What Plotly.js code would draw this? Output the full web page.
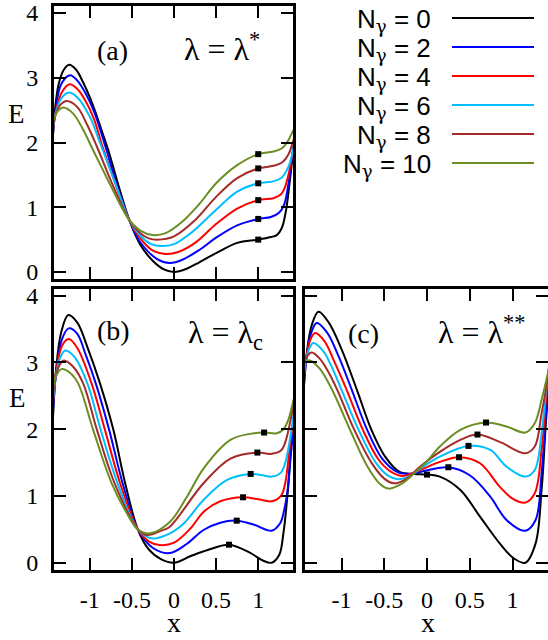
<!DOCTYPE html>
<html>
<head>
<meta charset="utf-8">
<script src="https://cdn.plot.ly/plotly-3.0.1.min.js"></script>
<style>html,body{margin:0;padding:0;background:#fff;}#chart{width:548px;height:640px;}</style>
</head>
<body>
<div id="chart"></div>
<script>
// Series labels (N_gamma) and colours
var nGamma = [0, 2, 4, 6, 8, 10];
var colors = ['#000000', '#0000ff', '#ff0000', '#00bfff', '#a52a2a', '#6b8e23'];

// Panel (a): lambda = lambda*
var aX = [
  [-1.44,-1.41,-1.37,-1.31,-1.245,-1.16,-1.08,-1.0,-0.92,-0.85,-0.78,-0.64,-0.53,-0.4,-0.25,-0.12,0,0.15,0.3,0.5,0.75,1.0,1.15,1.22,1.28,1.33,1.37,1.41,1.45],
  [-1.44,-1.40,-1.34,-1.235,-1.15,-1.05,-0.95,-0.81,-0.68,-0.53,-0.4,-0.2,-0.05,0.1,0.3,0.5,0.75,1.0,1.15,1.25,1.31,1.36,1.40,1.45],
  [-1.44,-1.40,-1.33,-1.24,-1.15,-1.05,-0.95,-0.845,-0.7,-0.53,-0.4,-0.25,-0.1,0.05,0.25,0.5,0.75,1.0,1.18,1.27,1.32,1.38,1.42,1.45],
  [-1.44,-1.40,-1.34,-1.255,-1.15,-1.0,-0.88,-0.7,-0.53,-0.4,-0.27,-0.15,0,0.2,0.5,0.75,1.0,1.18,1.28,1.35,1.40,1.45],
  [-1.44,-1.40,-1.35,-1.275,-1.15,-1.03,-0.92,-0.72,-0.53,-0.4,-0.3,-0.2,0,0.25,0.5,0.75,1.0,1.18,1.29,1.36,1.41,1.45],
  [-1.44,-1.40,-1.315,-1.2,-1.08,-0.96,-0.8,-0.65,-0.53,-0.4,-0.25,-0.1,0.1,0.3,0.5,0.75,1.0,1.18,1.29,1.36,1.41,1.45]
];
var aE = [
  [2.05,2.55,2.9,3.12,3.20,3.12,2.93,2.7,2.42,2.15,1.88,1.25,0.80,0.42,0.17,0.04,0,0.05,0.15,0.29,0.45,0.50,0.54,0.57,0.68,0.95,1.35,1.8,2.2],
  [2.1,2.55,2.9,3.04,2.96,2.76,2.48,1.92,1.35,0.80,0.46,0.2,0.14,0.19,0.34,0.53,0.72,0.82,0.85,0.92,1.05,1.37,1.75,2.2],
  [2.15,2.5,2.78,2.90,2.83,2.64,2.36,1.92,1.38,0.80,0.52,0.33,0.28,0.31,0.45,0.74,0.98,1.11,1.14,1.2,1.32,1.63,1.95,2.2],
  [2.2,2.47,2.68,2.77,2.7,2.4,2.0,1.38,0.80,0.56,0.43,0.40,0.43,0.6,0.96,1.24,1.37,1.40,1.46,1.6,1.8,2.2],
  [2.25,2.45,2.58,2.64,2.55,2.27,1.95,1.32,0.80,0.6,0.52,0.50,0.55,0.8,1.16,1.45,1.60,1.64,1.70,1.82,2.0,2.22],
  [2.3,2.45,2.54,2.45,2.2,1.88,1.46,1.07,0.80,0.64,0.57,0.6,0.78,1.05,1.37,1.65,1.82,1.86,1.92,2.04,2.17,2.27]
];
var aMarkX = [1.0, 1.0, 1.0, 1.0, 1.0, 1.0];
var aMarkE = [0.50, 0.82, 1.11, 1.37, 1.60, 1.82];

// Panel (b): lambda = lambda_c
var bX = [
  [-1.44,-1.40,-1.34,-1.255,-1.15,-1.02,-0.88,-0.72,-0.58,-0.43,-0.3,-0.15,0,0.2,0.4,0.653,0.9,1.06,1.16,1.25,1.3,1.35,1.40,1.45],
  [-1.44,-1.40,-1.33,-1.25,-1.15,-1.05,-0.93,-0.77,-0.61,-0.43,-0.25,-0.05,0.15,0.35,0.55,0.745,0.95,1.16,1.26,1.31,1.35,1.39,1.45],
  [-1.44,-1.40,-1.33,-1.25,-1.15,-0.98,-0.82,-0.64,-0.43,-0.3,-0.17,0,0.2,0.35,0.55,0.82,1.0,1.16,1.27,1.32,1.38,1.45],
  [-1.44,-1.40,-1.35,-1.29,-1.18,-1.03,-0.87,-0.67,-0.43,-0.265,-0.1,0.1,0.35,0.63,0.91,1.05,1.16,1.27,1.33,1.40,1.45],
  [-1.44,-1.40,-1.36,-1.31,-1.2,-1.08,-0.915,-0.705,-0.43,-0.32,-0.15,-0.05,0.35,0.67,0.99,1.15,1.27,1.33,1.40,1.45],
  [-1.44,-1.40,-1.335,-1.24,-1.14,-0.96,-0.74,-0.55,-0.43,-0.285,-0.05,0.15,0.35,0.67,0.9,1.07,1.22,1.30,1.36,1.42,1.45]
];
var bE = [
  [2.1,2.9,3.45,3.71,3.6,3.2,2.69,1.99,1.19,0.50,0.2,0.05,0,0.1,0.19,0.27,0.15,0.03,0,0.12,0.45,1.05,1.9,2.4],
  [2.2,2.85,3.35,3.51,3.43,3.12,2.69,1.99,1.19,0.50,0.22,0.145,0.28,0.49,0.6,0.63,0.57,0.48,0.59,0.8,1.1,1.65,2.4],
  [2.3,2.85,3.25,3.35,3.22,2.69,1.99,1.19,0.50,0.32,0.265,0.3,0.52,0.76,0.92,0.98,0.95,0.92,1.0,1.19,1.79,2.45],
  [2.4,2.8,3.08,3.18,3.08,2.69,1.99,1.19,0.50,0.365,0.41,0.57,0.94,1.24,1.33,1.31,1.29,1.35,1.54,2.04,2.5],
  [2.5,2.8,2.96,3.03,2.94,2.69,1.99,1.19,0.50,0.415,0.48,0.54,1.19,1.56,1.65,1.63,1.68,1.84,2.24,2.52],
  [2.6,2.8,2.90,2.85,2.69,1.99,1.19,0.72,0.50,0.44,0.61,0.98,1.41,1.84,1.93,1.95,1.94,2.0,2.15,2.44,2.56]
];
var bMarkX = [0.653, 0.745, 0.82, 0.91, 0.99, 1.07];
var bMarkE = [0.27, 0.63, 0.98, 1.33, 1.65, 1.95];

// Panel (c): lambda = lambda**
var cX = [
  [-1.45,-1.41,-1.35,-1.27,-1.15,-1.0,-0.82,-0.65,-0.49,-0.32,-0.15,0,0.15,0.39,0.62,0.85,1.01,1.15,1.27,1.34,1.39,1.44],
  [-1.45,-1.41,-1.36,-1.29,-1.17,-1.03,-0.88,-0.70,-0.52,-0.35,-0.2,-0.08,0.25,0.5,0.74,0.93,1.15,1.27,1.34,1.39,1.44],
  [-1.45,-1.42,-1.37,-1.31,-1.2,-1.08,-0.94,-0.75,-0.57,-0.42,-0.28,-0.08,0.15,0.375,0.62,0.85,1.0,1.15,1.26,1.34,1.39,1.44],
  [-1.45,-1.42,-1.38,-1.33,-1.22,-1.12,-1.0,-0.80,-0.6,-0.45,-0.34,-0.2,-0.08,0.15,0.485,0.74,0.93,1.15,1.26,1.34,1.39,1.44],
  [-1.45,-1.42,-1.35,-1.25,-1.15,-1.05,-0.85,-0.65,-0.5,-0.39,-0.25,-0.08,0.15,0.39,0.59,0.85,1.15,1.26,1.34,1.39,1.44],
  [-1.45,-1.42,-1.37,-1.25,-1.11,-0.90,-0.7,-0.55,-0.45,-0.3,-0.14,0,0.15,0.39,0.69,0.93,1.15,1.26,1.34,1.40,1.44]
];
var cE = [
  [2.4,3.1,3.55,3.76,3.6,3.2,2.59,1.99,1.59,1.36,1.33,1.32,1.29,1.09,0.69,0.29,0.07,0,0.29,1.09,2.09,3.0],
  [2.5,3.05,3.42,3.59,3.45,3.08,2.59,1.99,1.55,1.36,1.33,1.36,1.43,1.31,0.99,0.64,0.48,0.64,1.34,2.19,3.0],
  [2.6,3.0,3.32,3.44,3.32,3.0,2.59,1.99,1.55,1.36,1.30,1.39,1.51,1.58,1.49,1.14,0.96,0.90,1.04,1.69,2.44,3.1],
  [2.7,3.0,3.2,3.29,3.18,2.95,2.59,1.99,1.5,1.3,1.25,1.3,1.41,1.59,1.75,1.69,1.44,1.29,1.39,1.94,2.54,3.1],
  [2.85,3.05,3.15,3.05,2.85,2.59,1.99,1.5,1.26,1.19,1.25,1.44,1.66,1.84,1.92,1.81,1.64,1.74,2.24,2.59,3.0],
  [2.95,3.01,3.03,2.9,2.59,1.99,1.45,1.18,1.11,1.18,1.35,1.52,1.74,1.99,2.10,2.04,1.95,2.09,2.44,2.76,3.0]
];
var cMarkX = [0, 0.25, 0.375, 0.485, 0.59, 0.69];
var cMarkE = [1.32, 1.43, 1.58, 1.75, 1.92, 2.10];

// Tick labels
var xTickVals = [-1, -0.5, 0, 0.5, 1];
var xTickText = ['-1', '-0.5', '0', '0.5', '1'];
var yTickVals = [0, 1, 2, 3, 4];
var yTickText = ['0', '1', '2', '3', '4'];

var panels = [
  {X: aX, E: aE, mx: aMarkX, me: aMarkE, xa: 'x', ya: 'y'},
  {X: bX, E: bE, mx: bMarkX, me: bMarkE, xa: 'x2', ya: 'y2'},
  {X: cX, E: cE, mx: cMarkX, me: cMarkE, xa: 'x3', ya: 'y3'}
];

var traces = [];
panels.forEach(function (p) {
  for (var i = 0; i < nGamma.length; i++) {
    traces.push({
      type: 'scatter', mode: 'lines', x: p.X[i], y: p.E[i],
      xaxis: p.xa, yaxis: p.ya, showlegend: false, hoverinfo: 'skip',
      line: {color: colors[i], width: 2, shape: 'spline', smoothing: 1}
    });
  }
  traces.push({
    type: 'scatter', mode: 'markers', x: p.mx, y: p.me,
    xaxis: p.xa, yaxis: p.ya, showlegend: false, hoverinfo: 'skip',
    marker: {symbol: 'square', size: 6, color: '#000000'}
  });
});

var W = 548, H = 640;
function px(v) { return v / W; }
function py(v) { return 1 - v / H; }

var serif = 'Liberation Serif, Times New Roman, serif';
var sans = 'Liberation Sans, Arial, sans-serif';

function xAxis(dom, rng, labels, anchor) {
  return {
    domain: dom, range: rng, anchor: anchor,
    tickmode: 'array', tickvals: xTickVals, ticktext: xTickText,
    showticklabels: labels, ticks: 'inside', ticklen: 12, tickwidth: 2, tickcolor: '#000',
    showline: true, linewidth: 3, linecolor: '#000', mirror: 'allticks',
    showgrid: false, zeroline: false, ticklabelstandoff: 6,
    tickfont: {family: serif, size: 24, color: '#000'}
  };
}
function yAxis(dom, rng, labels, anchor) {
  return {
    domain: dom, range: rng, anchor: anchor,
    tickmode: 'array', tickvals: yTickVals, ticktext: yTickText,
    showticklabels: labels, ticks: 'inside', ticklen: 12, tickwidth: 2, tickcolor: '#000',
    showline: true, linewidth: 3, linecolor: '#000', mirror: 'allticks',
    showgrid: false, zeroline: false, ticklabelstandoff: 8,
    tickfont: {family: serif, size: 24, color: '#000'}
  };
}

var annotations = [];
function ann(text, x, y, size, family, xanchor) {
  annotations.push({text: text, x: px(x), y: py(y), xref: 'paper', yref: 'paper',
    showarrow: false, xanchor: xanchor || 'center', yanchor: 'middle',
    font: {family: family, size: size, color: '#000'}});
}
ann('(a)', 112, 50, 28, serif);
ann('λ = λ<sup>*</sup>', 222, 47, 32, serif);
ann('(b)', 113, 330, 28, serif);
ann('λ = λ<sub>c</sub>', 225, 334, 32, serif);
ann('(c)', 363, 333, 28, serif);
ann('λ = λ<sup>**</sup>', 481, 330, 32, serif);
ann('E', 16, 114, 27, serif);
ann('E', 17, 398, 27, serif);
ann('x', 174, 622, 28, serif);
ann('x', 428, 622, 28, serif);

// legend (text right-aligned, key line to the right)
var legRowY = [18, 47, 76, 105, 134, 163];
var shapes = [];
for (var i = 0; i < nGamma.length; i++) {
  annotations.push({text: 'N<sub><span style="font-family:DejaVu Serif">γ</span></sub> = ' + nGamma[i],
    x: px(433), y: py(legRowY[i] - 1),
    xref: 'paper', yref: 'paper', showarrow: false, xanchor: 'right', yanchor: 'top',
    yshift: 15, font: {family: sans, size: 26, color: '#000'}});
  shapes.push({type: 'line', xref: 'paper', yref: 'paper', x0: px(452), x1: px(534),
    y0: py(legRowY[i]), y1: py(legRowY[i]), line: {color: colors[i], width: 2}});
}

var layout = {
  width: W, height: H, margin: {l: 0, r: 0, t: 0, b: 0},
  paper_bgcolor: '#fff', plot_bgcolor: '#fff', showlegend: false,
  xaxis: xAxis([px(54), px(293)], [-1.425, 1.413], false, 'y'),
  yaxis: yAxis([py(279), py(6)], [-0.108, 4.108], true, 'x'),
  xaxis2: xAxis([px(54), px(293)], [-1.425, 1.413], true, 'y2'),
  yaxis2: yAxis([py(570), py(289)], [-0.109, 4.10], true, 'x2'),
  xaxis3: xAxis([px(305), px(548)], [-1.427, 1.415], true, 'y3'),
  yaxis3: yAxis([py(570), py(289)], [-0.109, 4.10], false, 'x3'),
  annotations: annotations, shapes: shapes
};

Plotly.newPlot('chart', traces, layout, {staticPlot: true, displayModeBar: false});
</script>
</body>
</html>
